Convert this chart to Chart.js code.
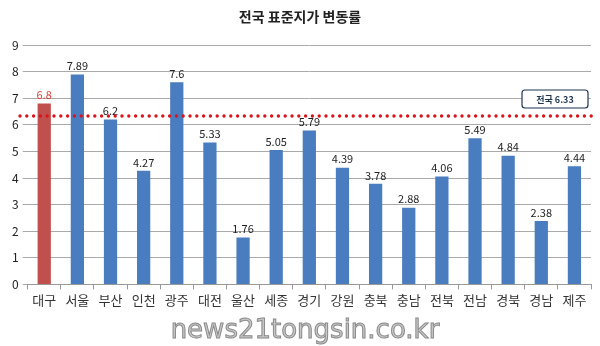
<!DOCTYPE html>
<html>
<head>
<meta charset="utf-8">
<script src="https://cdn.jsdelivr.net/npm/chart.js@4.4.0/dist/chart.umd.min.js"></script>
<style>
  html, body { margin: 0; padding: 0; background: #fff; }
  #wrap { width: 600px; height: 346px; position: relative; }
</style>
</head>
<body>
<div id="wrap"><canvas id="c" width="600" height="346"></canvas></div>
<script>
// 지역별 표준지가 변동률 (%)
const regions = ['대구', '서울', '부산', '인천', '광주', '대전', '울산', '세종', '경기', '강원', '충북', '충남', '전북', '전남', '경북', '경남', '제주'];
const rates = [6.8, 7.89, 6.2, 4.27, 7.6, 5.33, 1.76, 5.05, 5.79, 4.39, 3.78, 2.88, 4.06, 5.49, 4.84, 2.38, 4.44];
const yTicks = [0, 1, 2, 3, 4, 5, 6, 7, 8, 9];
const nationAvg = 6.33;
const highlight = '대구';

const FONT = "'Noto Sans CJK KR', 'Noto Sans', sans-serif";
const BLUE = '#4a7dc0';
const RED = '#c0504d';

const barColors = regions.map(r => r === highlight ? RED : BLUE);

// labels, dotted avg line, title, box, watermark
const extras = {
  id: 'extras',
  afterDatasetsDraw(chart) {
    const ctx = chart.ctx;
    const meta = chart.getDatasetMeta(0);
    const y = chart.scales.y;

    ctx.save();
    ctx.textAlign = 'center';
    ctx.textBaseline = 'bottom';
    ctx.font = '11px ' + FONT;
    meta.data.forEach((bar, i) => {
      ctx.fillStyle = regions[i] === highlight ? '#e0403a' : '#222';
      ctx.fillText(String(rates[i]), bar.x, bar.y - 3);
    });

    // dotted national average line
    const ya = y.getPixelForValue(nationAvg);
    ctx.strokeStyle = '#d9141b';
    ctx.lineWidth = 3.4;
    ctx.lineCap = 'round';
    ctx.setLineDash([0, 6.8]);
    ctx.beginPath();
    ctx.moveTo(20, ya);
    ctx.lineTo(598, ya);
    ctx.stroke();
    ctx.setLineDash([]);

    // label box
    const bx = 522, by = 90, bw = 66, bh = 18;
    ctx.fillStyle = '#fff';
    ctx.strokeStyle = '#1f3550';
    ctx.lineWidth = 1.2;
    ctx.beginPath();
    ctx.roundRect(bx, by, bw, bh, 3);
    ctx.fill();
    ctx.stroke();
    ctx.fillStyle = '#1f3550';
    ctx.font = 'bold 9px ' + FONT;
    ctx.textBaseline = 'middle';
    ctx.fillText('전국 ' + nationAvg, bx + bw / 2, by + bh / 2 + 1);

    // title
    ctx.fillStyle = '#222';
    ctx.font = 'bold 14px ' + FONT;
    ctx.fillText('전국 표준지가 변동률', 300, 17);

    // watermark
    ctx.font = '26px ' + "'DejaVu Sans', sans-serif";
    ctx.fillStyle = '#c8c8c8';
    ctx.strokeStyle = '#8a8a8a';
    ctx.lineWidth = 1;
    ctx.fillText('news21tongsin.co.kr', 305, 331);
    ctx.strokeText('news21tongsin.co.kr', 305, 331);
    ctx.restore();
  }
};

new Chart(document.getElementById('c'), {
  type: 'bar',
  data: {
    labels: regions,
    datasets: [{
      data: rates,
      backgroundColor: barColors,
      barPercentage: 0.4,
      categoryPercentage: 1.0
    }]
  },
  options: {
    responsive: false,
    animation: false,
    layout: { padding: { top: 45, right: 9, bottom: 35, left: 8 } },
    plugins: { legend: { display: false }, tooltip: { enabled: false } },
    scales: {
      x: {
        grid: { offset: true, drawOnChartArea: false, tickLength: 5, color: '#999' },
        border: { color: '#999' },
        ticks: { color: '#333', font: { family: FONT, size: 13 }, padding: 3, maxRotation: 0, autoSkip: false }
      },
      y: {
        min: 0, max: 9,
        afterBuildTicks(s) { s.ticks = yTicks.map(v => ({ value: v })); },
        grid: { color: '#aaa', tickLength: 5 },
        border: { display: false },
        ticks: { color: '#222', font: { family: FONT, size: 12 }, padding: 4 }
      }
    }
  },
  plugins: [extras]
});
</script>
</body>
</html>
